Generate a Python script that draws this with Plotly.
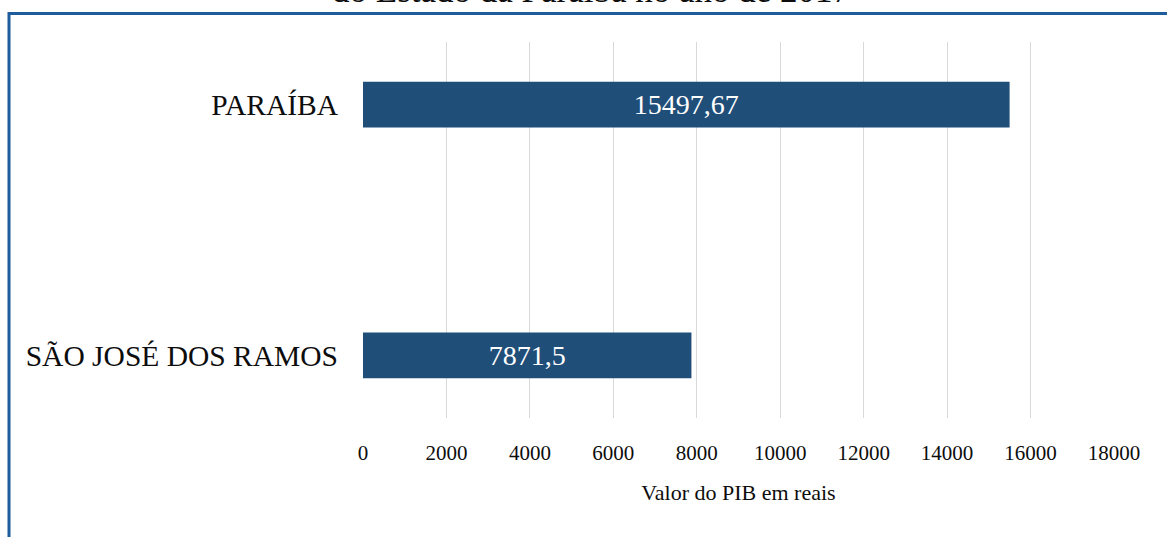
import plotly.graph_objects as go

categories = ["SÃO JOSÉ DOS RAMOS", "PARAÍBA"]
values = [7871.5, 15497.67]
x_ticks = [0, 2000, 4000, 6000, 8000, 10000, 12000, 14000, 16000, 18000]
title_text = "do Estado da Paraíba no ano de 2017"
x_title = "Valor do PIB em reais"

labels = [str(v).replace(".", ",") for v in values]

W, H = 1167, 537
L, R, T, B = 363, 53, 42, 119
pw, ph = W - L - R, H - T - B

def px(x):
    return (x - L) / pw

def py(y):
    return 1 + (T - y) / ph

fig = go.Figure(go.Bar(
    x=values, y=categories, orientation="h",
    marker=dict(color="#1f4e79", line=dict(width=0)),
    width=0.183,
    text=labels, textposition="inside", insidetextanchor="middle",
    textfont=dict(family="Liberation Serif", size=28, color="white"),
    textangle=0,
))

fig.update_layout(
    width=W, height=H,
    margin=dict(l=L, r=R, t=T, b=B, pad=0),
    paper_bgcolor="white", plot_bgcolor="white",
    showlegend=False,
    font=dict(family="Liberation Serif", color="#0d0d0d"),
    xaxis=dict(
        range=[0, 18000], tickvals=x_ticks, ticktext=[str(t) for t in x_ticks],
        showgrid=True, gridcolor="#d9d9d9", gridwidth=1.3,
        zeroline=False, showline=False, ticks="",
        tickfont=dict(size=21, family="Liberation Serif", color="#0d0d0d"),
        ticklabelstandoff=20,
        title=dict(text=x_title, font=dict(size=22, family="Liberation Serif", color="#0d0d0d"), standoff=20),
    ),
    yaxis=dict(
        range=[-0.25, 1.25], showgrid=False, zeroline=False, showline=False, ticks="",
        tickfont=dict(size=29.5, family="Liberation Serif", color="#0d0d0d"),
        ticklabelstandoff=24,
    ),
    annotations=[dict(
        text=title_text, xref="paper", yref="paper",
        x=px(591), y=py(-9), xanchor="center", yanchor="middle",
        showarrow=False, font=dict(size=35, family="Liberation Serif", color="#0d0d0d"),
    )],
    shapes=[
        dict(type="line", xref="paper", yref="paper", x0=px(9), x1=px(1170), y0=py(13.5), y1=py(13.5),
             line=dict(color="#1f5c9c", width=3)),
        dict(type="line", xref="paper", yref="paper", x0=px(9), x1=px(9), y0=py(12), y1=py(540),
             line=dict(color="#1f5c9c", width=3)),
    ],
)

fig.write_html("out.html", config={"displayModeBar": False},
               post_script="document.body.style.margin='0';document.body.style.overflow='hidden';")
